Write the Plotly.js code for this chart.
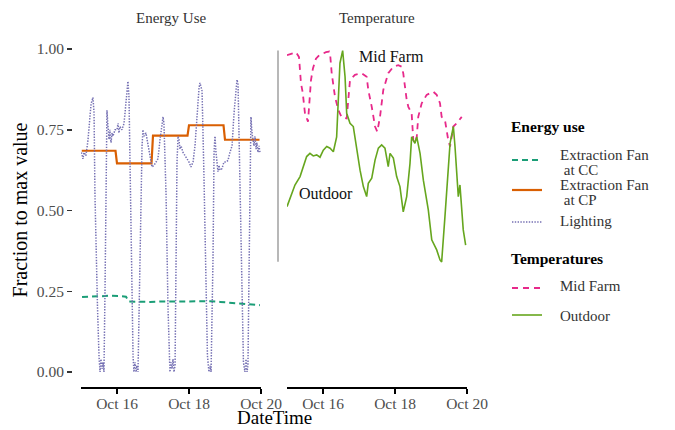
<!DOCTYPE html>
<html>
<head>
<meta charset="utf-8">
<script src="https://cdn.plot.ly/plotly-3.0.1.min.js"></script>
<style>html,body{margin:0;padding:0;background:#fff;}#chart{width:675px;height:430px;}</style>
</head>
<body>
<div id="chart"></div>
<script>
// ---- Data (hours since 2021-10-15 00:00, value as fraction of max) ----
const tickDates = ['2021-10-16', '2021-10-18', '2021-10-20'];
const tickLabels = ['Oct 16', 'Oct 18', 'Oct 20'];
const yTickVals = [0, 0.25, 0.5, 0.75, 1];
const yTickLabels = ['0.00', '0.25', '0.50', '0.75', '1.00'];

const fanCCHours = [0.7, 6.0, 12.7, 19.3, 26.0, 30.0, 32.0, 39.3, 46.0, 52.7, 59.3, 66.0, 72.7, 79.3, 86.0, 92.7, 99.3, 106.0, 112.7, 119.3];
const fanCCValues = [0.232, 0.233, 0.236, 0.236, 0.235, 0.233, 0.218, 0.217, 0.217, 0.218, 0.218, 0.219, 0.219, 0.220, 0.219, 0.217, 0.214, 0.213, 0.210, 0.207];

const fanCPHours = [0.5, 23.0, 24.0, 47.0, 48.0, 71.0, 72.0, 95.0, 96.0, 119.0];
const fanCPValues = [0.685, 0.685, 0.646, 0.646, 0.732, 0.732, 0.764, 0.764, 0.719, 0.719];

const lightHours = [0.3, 1.3, 2.0, 3.3, 4.7, 6.7, 8.0, 8.7, 9.3, 10.0, 10.3, 11.0, 12.0, 12.7, 13.3, 14.0, 14.7, 15.3, 16.0, 16.7,
  17.3, 18.0, 18.7, 19.3, 20.0, 20.7, 21.3, 22.7, 24.0, 24.7, 25.3, 26.0, 27.3, 28.7, 30.0, 31.3, 32.0, 33.3, 34.7, 35.3,
  36.0, 36.7, 37.3, 38.0, 39.3, 40.7, 41.3, 42.0, 43.3, 44.7, 46.0, 47.3, 48.7, 50.0, 51.3, 52.7, 54.0, 54.7, 55.3, 56.7,
  58.0, 59.3, 60.0, 60.7, 61.3, 62.0, 62.7, 63.3, 64.0, 64.7, 65.3, 66.0, 66.7, 68.0, 69.3, 70.7, 72.0, 73.3, 74.7, 76.0,
  77.3, 78.7, 79.3, 80.7, 82.0, 83.3, 84.3, 85.3, 86.0, 86.7, 88.0, 88.7, 89.3, 90.0, 90.7, 91.3, 92.0, 92.7, 94.0, 95.3,
  96.7, 98.0, 99.3, 100.7, 102.0, 103.3, 104.0, 104.7, 106.0, 107.3, 108.3, 109.3, 110.0, 110.7, 111.3, 112.0, 112.7, 113.3, 114.0, 114.7,
  115.3, 116.0, 116.7, 117.3, 118.0, 118.7, 119.3];
const lightValues = [0.68, 0.66, 0.68, 0.67, 0.72, 0.83, 0.85, 0.80, 0.55, 0.38, 0.36, 0.20, 0.05, 0.0, 0.04, 0.01, 0.03, 0.0, 0.25, 0.60,
  0.81, 0.76, 0.72, 0.75, 0.71, 0.74, 0.73, 0.75, 0.75, 0.77, 0.74, 0.76, 0.75, 0.77, 0.85, 0.90, 0.85, 0.40, 0.05, 0.0,
  0.03, 0.0, 0.02, 0.0, 0.40, 0.70, 0.75, 0.73, 0.74, 0.70, 0.66, 0.635, 0.64, 0.65, 0.66, 0.72, 0.78, 0.79, 0.77, 0.55,
  0.20, 0.0, 0.03, 0.01, 0.04, 0.0, 0.02, 0.30, 0.65, 0.73, 0.72, 0.69, 0.70, 0.68, 0.67, 0.66, 0.65, 0.635, 0.65, 0.70,
  0.80, 0.88, 0.895, 0.87, 0.60, 0.25, 0.05, 0.0, 0.02, 0.0, 0.35, 0.68, 0.73, 0.68, 0.63, 0.62, 0.64, 0.625, 0.63, 0.65,
  0.65, 0.655, 0.68, 0.70, 0.80, 0.89, 0.905, 0.89, 0.60, 0.20, 0.03, 0.0, 0.04, 0.0, 0.02, 0.30, 0.65, 0.79, 0.74, 0.72,
  0.70, 0.73, 0.69, 0.71, 0.68, 0.70, 0.68];

const midFarmHours = [0.0, 4.2, 6.0, 8.0, 9.3, 10.5, 12.0, 14.0, 16.0, 17.3, 19.3, 21.5, 24.0, 26.0, 28.2, 28.7, 29.8, 32.0, 34.2, 36.5,
  39.8, 40.9, 42.0, 45.3, 49.8, 53.1, 54.2, 56.5, 58.7, 60.2, 62.0, 64.2, 67.5, 70.9, 74.2, 76.5, 77.5, 79.8, 80.9, 83.1,
  84.2, 85.3, 86.5, 87.5, 89.8, 93.1, 97.5, 99.8, 102.0, 103.1, 105.3, 107.5, 108.7, 110.9, 113.1, 116.5];
const midFarmValues = [0.981, 0.987, 0.99, 0.975, 0.895, 0.864, 0.80, 0.775, 0.904, 0.94, 0.97, 0.981, 0.987, 0.99, 0.992, 0.987, 0.925, 0.852, 0.811, 0.788,
  0.785, 0.842, 0.904, 0.920, 0.925, 0.914, 0.873, 0.821, 0.760, 0.744, 0.790, 0.873, 0.925, 0.945, 0.950, 0.945, 0.925, 0.842, 0.821, 0.801,
  0.718, 0.708, 0.728, 0.790, 0.832, 0.858, 0.868, 0.858, 0.832, 0.790, 0.780, 0.718, 0.698, 0.760, 0.770, 0.790];

const outdoorHours = [0.0, 3.1, 5.3, 8.7, 10.9, 13.1, 15.3, 17.5, 19.8, 22.0, 24.2, 26.5, 28.7, 30.9, 33.1, 34.2, 35.3, 37.1, 38.7, 39.8,
  42.0, 44.2, 46.5, 48.7, 50.9, 53.1, 54.2, 56.5, 58.7, 60.9, 63.1, 65.3, 67.5, 68.7, 70.9, 73.1, 75.3, 77.5, 79.8, 82.0,
  83.1, 85.3, 86.5, 88.7, 90.9, 94.2, 96.5, 99.8, 102.0, 103.1, 105.3, 107.5, 108.7, 110.9, 112.0, 114.2, 115.3, 117.5, 119.1];
const outdoorValues = [0.512, 0.553, 0.579, 0.605, 0.636, 0.667, 0.677, 0.669, 0.672, 0.665, 0.687, 0.698, 0.693, 0.682, 0.728, 0.852, 0.956, 0.995, 0.914, 0.801,
  0.770, 0.760, 0.687, 0.625, 0.574, 0.543, 0.584, 0.600, 0.656, 0.693, 0.703, 0.693, 0.636, 0.677, 0.662, 0.605, 0.574, 0.496, 0.543, 0.646,
  0.728, 0.708, 0.728, 0.677, 0.594, 0.502, 0.409, 0.378, 0.347, 0.341, 0.481, 0.646, 0.708, 0.760, 0.698, 0.543, 0.579, 0.440, 0.393];

// legend groups and labels
const energyLegendTitle = 'Energy use';
const tempLegendTitle = 'Temperatures';

// ---- helpers ----
const BASE = Date.UTC(2021, 9, 15, 0, 0, 0);
function toDates(hours) {
  return hours.map(h => new Date(BASE + Math.round(h * 3600) * 1000).toISOString().slice(0, 19).replace('T', ' '));
}
const W = 675, H = 430;
const px = v => v / W;
const py = v => 1 - v / H;

const SERIF = 'Liberation Serif, Times New Roman, serif';
const COL = { cc: '#1b9e77', cp: '#d95f02', light: '#7570b3', mid: '#e7298a', out: '#66a61e' };
const STY = {
  cc: { color: COL.cc, width: 2, dash: '6px,4px' },
  cp: { color: COL.cp, width: 2.2, dash: 'solid' },
  light: { color: COL.light, width: 1.5, dash: '1.4px,1.4px' },
  mid: { color: COL.mid, width: 1.8, dash: '6px,5px' },
  out: { color: COL.out, width: 1.6, dash: 'solid' }
};

const series = [
  { key: 'cc', name: 'Extraction Fan at CC', label: ['Extraction Fan', ' at CC'], h: fanCCHours, v: fanCCValues, ax: 1 },
  { key: 'cp', name: 'Extraction Fan at CP', label: ['Extraction Fan', ' at CP'], h: fanCPHours, v: fanCPValues, ax: 1 },
  { key: 'light', name: 'Lighting', label: ['Lighting'], h: lightHours, v: lightValues, ax: 1 },
  { key: 'mid', name: 'Mid Farm', label: ['Mid Farm'], h: midFarmHours, v: midFarmValues, ax: 2 },
  { key: 'out', name: 'Outdoor', label: ['Outdoor'], h: outdoorHours, v: outdoorValues, ax: 2 }
];

const traces = series.map(s => ({
  x: toDates(s.h), y: s.v, type: 'scatter', mode: 'lines', name: s.name,
  line: STY[s.key], xaxis: s.ax === 1 ? 'x' : 'x2', yaxis: s.ax === 1 ? 'y' : 'y2', showlegend: false
}));

const yRange = [-(380 - 372) / 323, 1 + (49 - 40) / 323];
const xRange = ['2021-10-15 00:00:00', '2021-10-20 00:00:00'];
const allTemps = midFarmValues.concat(outdoorValues);
const tMin = Math.min.apply(null, allTemps), tMax = Math.max.apply(null, allTemps);

const xCommon = {
  range: xRange, type: 'date', anchor: 'free', position: py(388),
  showline: true, linecolor: '#000', linewidth: 2,
  ticks: 'outside', ticklen: 5, tickwidth: 2, tickcolor: '#000',
  tickvals: tickDates, ticktext: tickLabels, ticklabelstandoff: -4,
  tickfont: { family: SERIF, size: 15.5, color: '#4d4d4d' },
  showgrid: false, zeroline: false
};

const ann = (text, x, y, size, color, extra) => Object.assign({
  text, xref: 'paper', yref: 'paper', x: px(x), y: py(y), showarrow: false,
  xanchor: 'center', yanchor: 'middle', font: { family: SERIF, size, color }
}, extra || {});

const annotations = [
  ann('Energy Use', 171, 18, 15, '#333'),
  ann('Temperature', 377, 18, 15, '#333'),
  ann('DateTime', 274, 430, 19, '#000', { yanchor: 'bottom' }),
  ann('Mid Farm', 391, 57, 16, '#111'),
  ann('Outdoor', 326, 193, 16, '#111'),
  ann('<b>' + energyLegendTitle + '</b>', 509, 127, 15.5, '#000', { xanchor: 'left' }),
  ann('<b>' + tempLegendTitle + '</b>', 509, 258, 15.5, '#000', { xanchor: 'left' })
];
const shapes = [
  { type: 'line', xref: 'paper', yref: 'y2', x0: px(278), x1: px(278), y0: tMin, y1: tMax,
    line: { color: '#a0a0a0', width: 1.5 } }
];

// custom legend entries (key line + label lines)
const legendRows = {
  cc: { key: 160, text: [155, 170] },
  cp: { key: 190, text: [185, 200] },
  light: { key: 222, text: [221] },
  mid: { key: 288, text: [286] },
  out: { key: 315, text: [316] }
};
series.forEach(s => {
  const r = legendRows[s.key];
  shapes.push({ type: 'line', xref: 'paper', yref: 'paper', x0: px(512), x1: px(542), y0: py(r.key), y1: py(r.key),
    line: STY[s.key] });
  s.label.forEach((t, i) => {
    annotations.push(ann(t.replace(/^ /, '&nbsp;'), 558, r.text[i], 15, '#333', { xanchor: 'left' }));
  });
});

const layout = {
  width: W, height: H,
  margin: { l: 0, r: 0, t: 0, b: 0 },
  paper_bgcolor: '#fff', plot_bgcolor: 'rgba(0,0,0,0)',
  font: { family: SERIF, color: '#000' },
  showlegend: false,
  xaxis: Object.assign({}, xCommon, { domain: [px(81), px(261)] }),
  xaxis2: Object.assign({}, xCommon, { domain: [px(287), px(467)] }),
  yaxis: {
    domain: [py(380), py(40)], range: yRange, anchor: 'free', position: px(72),
    showline: false, showgrid: false, zeroline: false,
    ticks: 'outside', ticklen: 5, tickwidth: 1.5, tickcolor: '#333',
    tickvals: yTickVals, ticktext: yTickLabels,
    tickfont: { family: SERIF, size: 15.5, color: '#4d4d4d' },
    title: { text: 'Fraction to max value', font: { family: SERIF, size: 20, color: '#000' }, standoff: 2 }
  },
  yaxis2: {
    domain: [py(380), py(40)], range: yRange, anchor: 'x2',
    showline: false, showgrid: false, zeroline: false, showticklabels: false, ticks: ''
  },
  shapes, annotations
};

Plotly.newPlot('chart', traces, layout, { displayModeBar: false, staticPlot: true });
</script>
</body>
</html>
